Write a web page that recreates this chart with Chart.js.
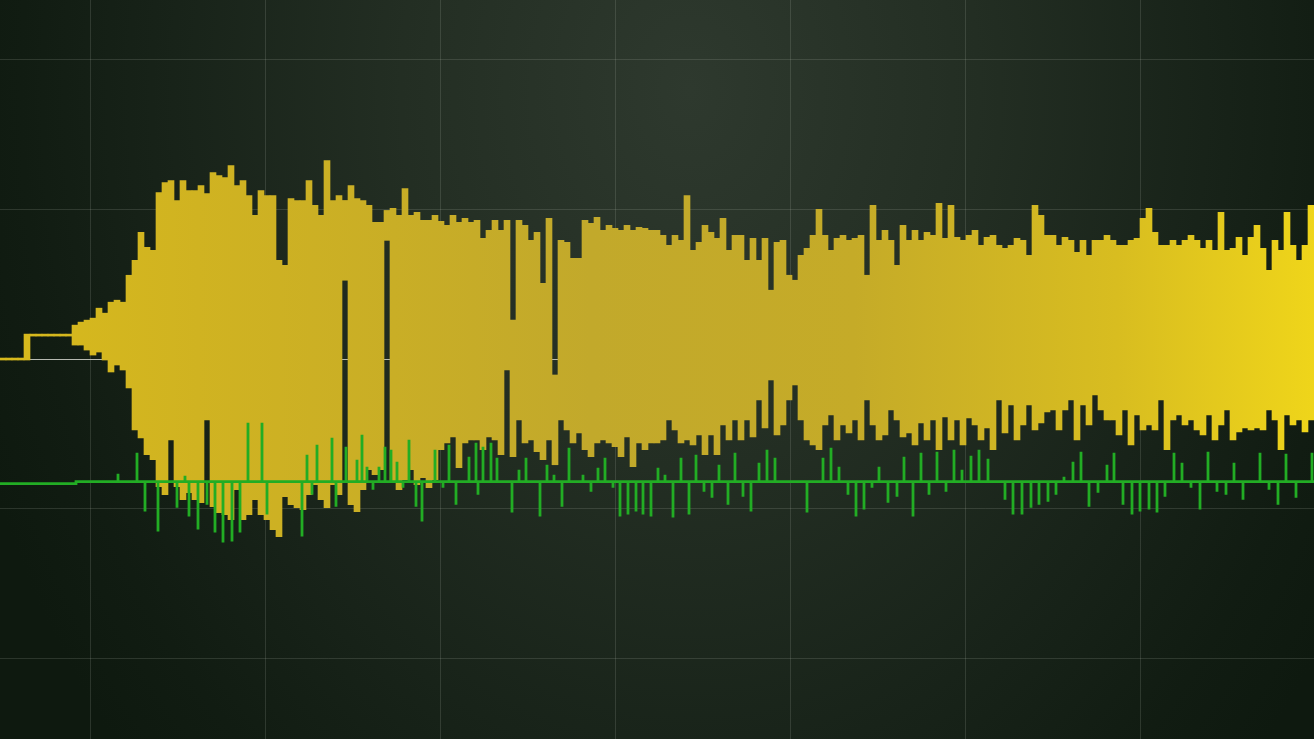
<!DOCTYPE html>
<html>
<head>
<meta charset="utf-8">
<script src="https://cdn.jsdelivr.net/npm/chart.js@4.4.0/dist/chart.umd.min.js"></script>
<style>
html, body { margin: 0; padding: 0; background: #0f1a10; overflow: hidden; }
#scope-wrap {
    width: 1314px;
    height: 739px;
    background: radial-gradient(ellipse 760px 1000px at 690px 90px, #2e392e 0%, #232e23 38%, #182319 68%, #111c12 88%, #0e190f 100%);
}
canvas { display: block; }
</style>
</head>
<body>
<div id="scope-wrap"><canvas id="scope" width="1314" height="739"></canvas></div>
<script>
// 示波器畫面：黃色通道 (每 6 個取樣一欄的最高/最低值) + 綠色通道 (基線與脈衝)

// 水平時間軸 (單位 = 取樣點) 與垂直電壓軸 (150 單位 = 1 格)
const xRange = [0, 1314];
const yRange = [-381, 360];
const xGrid = [90, 265, 440, 615, 790, 965, 1140];
const yGrid = [-300, -150, 0, 150, 300];
const sampleStep = 6; // 每一欄的取樣寬度

// 黃色通道：每欄最高值
const yellowHigh = [
    1, 1, 1, 1, 25, 25, 25, 25, 25, 25,
    25, 25, 34, 37, 39, 41, 51, 46, 57, 59,
    57, 84, 99, 127, 112, 109, 167, 177, 179, 159,
    179, 169, 169, 174, 166, 187, 184, 182, 194, 174,
    179, 164, 144, 169, 164, 164, 99, 94, 161, 159,
    159, 179, 154, 144, 199, 159, 164, 159, 174, 161,
    159, 154, 137, 137, 149, 151, 144, 171, 144, 147,
    139, 139, 144, 138, 134, 144, 137, 141, 137, 139,
    121, 129, 139, 129, 139, 39, 139, 134, 119, 127,
    76, 141, -16, 119, 117, 101, 101, 139, 136, 142,
    129, 134, 131, 129, 134, 129, 132, 131, 129, 129,
    124, 114, 124, 119, 164, 109, 117, 134, 127, 121,
    141, 109, 124, 124, 99, 121, 99, 121, 69, 117,
    119, 84, 79, 104, 111, 124, 150, 124, 109, 121,
    124, 119, 121, 124, 84, 154, 119, 129, 119, 94,
    134, 119, 129, 119, 127, 124, 156, 121, 154, 122,
    119, 124, 129, 114, 122, 124, 114, 111, 114, 121,
    119, 104, 154, 144, 124, 124, 114, 122, 119, 107,
    119, 104, 119, 119, 124, 119, 114, 114, 119, 121,
    141, 151, 127, 114, 114, 119, 114, 119, 124, 119,
    111, 119, 109, 147, 109, 111, 122, 104, 122, 134,
    111, 89, 119, 109, 147, 114, 99, 114, 154
];

// 黃色通道：每欄最低值
const yellowLow = [
    -1, -1, -1, -1, -1, 23, 23, 23, 23, 23,
    23, 23, 14, 14, 9, 4, 7, -1, -13, -6,
    -11, -29, -71, -79, -96, -101, -128, -136, -81, -128,
    -141, -134, -141, -144, -61, -148, -154, -156, -161, -131,
    -161, -156, -141, -156, -161, -171, -178, -138, -146, -149,
    -151, -136, -126, -141, -149, -126, -136, 79, -146, -153,
    -131, -111, -116, -111, 119, -124, -131, -121, -111, -126,
    -119, -129, -121, -91, -84, -78, -109, -84, -81, -81,
    -91, -78, -81, -96, -11, -98, -61, -84, -81, -93,
    -101, -81, -106, -61, -71, -84, -74, -91, -98, -84,
    -81, -84, -88, -98, -78, -108, -84, -91, -84, -84,
    -81, -61, -71, -84, -81, -86, -76, -96, -76, -96,
    -66, -81, -61, -81, -61, -78, -41, -69, -21, -76,
    -66, -41, -26, -61, -81, -86, -91, -66, -56, -81,
    -66, -74, -61, -81, -41, -66, -81, -76, -51, -61,
    -78, -74, -86, -64, -81, -61, -91, -58, -81, -61,
    -86, -59, -66, -81, -69, -91, -41, -74, -46, -81,
    -66, -46, -71, -64, -53, -51, -71, -51, -41, -81,
    -46, -66, -36, -51, -61, -61, -76, -51, -86, -56,
    -71, -66, -71, -41, -91, -61, -56, -66, -61, -71,
    -76, -56, -81, -66, -51, -81, -73, -69, -71, -69,
    -71, -51, -61, -91, -56, -66, -61, -73, -61
];

// 綠色通道：基線 (前段稍低) 與脈衝
const greenBaseX = [0, 76];
const greenBaseY = [-125, -123];
const greenSpikeX = [
    118, 137, 145, 158, 177, 185, 189, 198, 207, 215, 223, 232, 240, 248, 262, 267,
    302, 307, 312, 317, 332, 336, 346, 357, 362, 367, 373, 379, 385, 391, 397, 403,
    409, 416, 422, 435, 443, 449, 456, 469, 476, 478, 483, 491, 497, 512, 519, 526,
    540, 547, 554, 562, 569, 583, 591, 598, 605, 613, 620, 628, 636, 643, 651, 658,
    665, 673, 681, 689, 696, 704, 712, 719, 728, 735, 743, 751, 759, 767, 775, 807,
    823, 831, 839, 848, 856, 864, 872, 879, 888, 897, 904, 913, 921, 929, 937, 946,
    954, 962, 971, 979, 988, 1005, 1013, 1022, 1031, 1039, 1048, 1056, 1064, 1073, 1081, 1089,
    1098, 1107, 1114, 1123, 1132, 1140, 1149, 1157, 1165, 1174, 1182, 1191, 1200, 1208, 1217, 1226,
    1234, 1243, 1260, 1269, 1278, 1286, 1296, 1312
];
const greenSpikeY = [
    -115, -94, -153, -173, -149, -117, -158, -171, -146, -174, -184, -183, -174, -64, -64, -156,
    -178, -96, -136, -86, -79, -148, -88, -101, -76, -108, -131, -108, -88, -91, -103, -129,
    -81, -148, -163, -91, -129, -86, -146, -98, -84, -136, -88, -84, -99, -154, -111, -99,
    -158, -106, -116, -148, -89, -116, -133, -109, -99, -129, -158, -156, -153, -156, -158, -109,
    -116, -159, -99, -156, -96, -133, -139, -106, -146, -94, -138, -153, -104, -91, -99, -154,
    -99, -89, -108, -136, -158, -151, -129, -108, -144, -138, -98, -158, -94, -136, -93, -133,
    -91, -111, -97, -91, -100, -141, -156, -156, -149, -146, -143, -136, -118, -103, -93, -148,
    -134, -106, -94, -146, -156, -153, -151, -154, -138, -94, -104, -129, -151, -93, -133, -136,
    -104, -141, -94, -131, -146, -95, -139, -94
];

// 黃色：浮動長條 [最低, 最高]
const yellowBars = yellowHigh.map((hi, i) => ({
    x: i * sampleStep + sampleStep / 2,
    y: [yellowLow[i], hi]
}));

// 綠色：基線上每個脈衝都是同一 x 上的上下一筆
const greenPoints = [
    { x: xRange[0], y: greenBaseY[0] },
    { x: greenBaseX[1], y: greenBaseY[0] },
    { x: greenBaseX[1], y: greenBaseY[1] }
];
greenSpikeX.forEach((x, i) => {
    greenPoints.push({ x: x, y: greenBaseY[1] });
    greenPoints.push({ x: x, y: greenSpikeY[i] });
    greenPoints.push({ x: x, y: greenBaseY[1] });
});
greenPoints.push({ x: xRange[1], y: greenBaseY[1] });

// 黃色漸層 (左暖、中暗、右亮)
let yellowGradient = null;
let gradientWidth = 0;
function yellowFill(chart) {
    const area = chart.chartArea;
    if (!area) return '#cdb124';
    if (!yellowGradient || gradientWidth !== area.right - area.left) {
        const g = chart.ctx.createLinearGradient(area.left, 0, area.right, 0);
        g.addColorStop(0, '#d8ba1c');
        g.addColorStop(0.15, '#d0b321');
        g.addColorStop(0.45, '#c2a92b');
        g.addColorStop(0.65, '#c5ab28');
        g.addColorStop(0.85, '#d8bd20');
        g.addColorStop(1, '#efd51a');
        yellowGradient = g;
        gradientWidth = area.right - area.left;
    }
    return yellowGradient;
}

const gridColor = 'rgba(190, 195, 185, 0.17)';
const zeroColor = '#b6b9b1';

const config = {
    type: 'bar',
    data: {
        datasets: [
            {
                type: 'line',
                label: 'CH2',
                data: greenPoints,
                borderColor: '#22ad24',
                borderWidth: 2.8,
                pointRadius: 0,
                tension: 0,
                fill: false,
                order: 0
            },
            {
                type: 'bar',
                label: 'CH1',
                data: yellowBars,
                backgroundColor: (c) => yellowFill(c.chart),
                borderWidth: 0,
                barPercentage: 1,
                categoryPercentage: 1,
                order: 1
            }
        ]
    },
    options: {
        responsive: false,
        animation: false,
        devicePixelRatio: 1,
        events: [],
        layout: { padding: 0 },
        plugins: {
            legend: { display: false },
            tooltip: { enabled: false }
        },
        scales: {
            x: {
                type: 'linear',
                min: xRange[0],
                max: xRange[1],
                offset: false,
                afterBuildTicks: (scale) => { scale.ticks = xGrid.map(v => ({ value: v })); },
                ticks: { display: false },
                border: { display: false },
                grid: { color: gridColor, lineWidth: 1, drawTicks: false, offset: false }
            },
            y: {
                type: 'linear',
                min: yRange[0],
                max: yRange[1],
                afterBuildTicks: (scale) => { scale.ticks = yGrid.map(v => ({ value: v })); },
                ticks: { display: false },
                border: { display: false },
                grid: {
                    color: (c) => (c.tick && c.tick.value === 0 ? zeroColor : gridColor),
                    lineWidth: 1,
                    drawTicks: false,
                    offset: false
                }
            }
        }
    }
};

new Chart(document.getElementById('scope'), config);
</script>
</body>
</html>
